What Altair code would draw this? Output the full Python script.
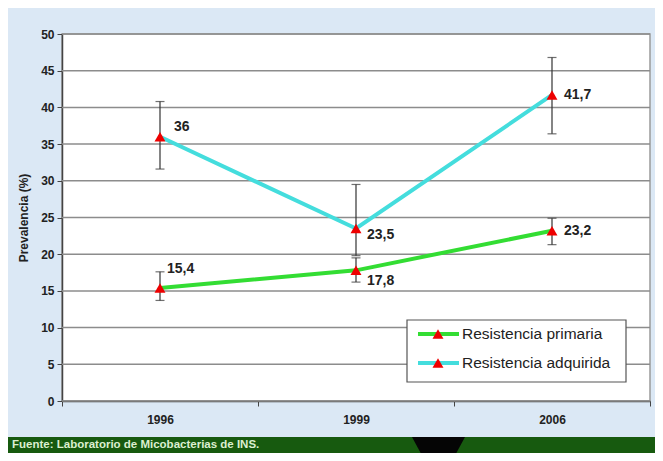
import altair as alt
import pandas as pd

years = ["1996", "1999", "2006"]
series = ["Resistencia primaria", "Resistencia adquirida"]
primaria = [15.4, 17.8, 23.2]
primaria_low = [13.7, 16.2, 21.3]
primaria_high = [17.6, 19.5, 24.9]
adquirida = [36.0, 23.5, 41.7]
adquirida_low = [31.6, 19.8, 36.4]
adquirida_high = [40.8, 29.5, 46.8]
y_ticks = [0, 5, 10, 15, 20, 25, 30, 35, 40, 45, 50]
footer = "Fuente: Laboratorio de Micobacterias de INS."

rows = []
for i, yr in enumerate(years):
    rows.append(dict(year=yr, series=series[0], value=primaria[i], low=primaria_low[i], high=primaria_high[i]))
    rows.append(dict(year=yr, series=series[1], value=adquirida[i], low=adquirida_low[i], high=adquirida_high[i]))
df = pd.DataFrame(rows)

FONT = "Liberation Sans"
W, H = 588, 367
line_colors = ["#33dd33", "#44dddd"]

x_enc = alt.X(
    "year:N", sort=years,
    scale=alt.Scale(type="band", domain=years, paddingInner=0, paddingOuter=0),
    axis=alt.Axis(title=None, labelAngle=0, tickBand="extent", grid=False,
                  labelFont=FONT, labelFontSize=12, labelFontWeight="bold", labelColor="#222",
                  tickSize=5, tickColor="#444", domainColor="#444", domainWidth=1.5,
                  labelPadding=8),
)
y_scale = alt.Scale(domain=[0, 50], nice=False, zero=True)
y_axis = alt.Axis(values=y_ticks, tickCount=11, labelOverlap=False, grid=False,
                  title="Prevalencia (%)", titleFont=FONT, titleFontSize=12, titleFontWeight="bold",
                  titleColor="#222", titlePadding=10,
                  labelFont=FONT, labelFontSize=12, labelFontWeight="bold", labelColor="#222",
                  tickSize=5, tickColor="#444", domainColor="#444", domainWidth=1.5, labelPadding=3)


def y_of(field):
    return alt.Y(f"{field}:Q", scale=y_scale, axis=y_axis)


# horizontal grid lines at each y tick value
grid = alt.Chart(pd.DataFrame({"tick": y_ticks})).mark_rule(color="#8c8c8c", strokeWidth=1.5).encode(
    y=y_of("tick"))

base = alt.Chart(df)

err = base.mark_rule(color="#333", strokeWidth=1.2).encode(
    x=x_enc, y=y_of("low"), y2="high:Q")
cap_lo = base.mark_tick(color="#333", thickness=1.2, size=9).encode(x=x_enc, y=y_of("low"))
cap_hi = base.mark_tick(color="#333", thickness=1.2, size=9).encode(x=x_enc, y=y_of("high"))

lines = base.mark_line(strokeWidth=4).encode(
    x=x_enc, y=y_of("value"),
    color=alt.Color("series:N", scale=alt.Scale(domain=series, range=line_colors), legend=None),
)
pts = base.mark_point(shape="triangle-up", filled=True, color="#ee0000", size=120, opacity=1).encode(
    x=x_enc, y=y_of("value"))

label_offsets = {
    (years[0], series[0]): (7, -19),
    (years[1], series[0]): (11, 11),
    (years[2], series[0]): (12, 0),
    (years[0], series[1]): (14, -10),
    (years[1], series[1]): (11, 6),
    (years[2], series[1]): (12, 0),
}
label_layers = []
for (yr, s), (dx, dy) in label_offsets.items():
    label_layers.append(
        base.transform_filter((alt.datum.year == yr) & (alt.datum.series == s))
        .transform_calculate(label="replace(toString(datum.value), '.', ',')")
        .mark_text(align="left", baseline="middle", dx=dx, dy=dy, font=FONT, fontSize=14,
                   fontWeight="bold", color="#222")
        .encode(x=x_enc, y=y_of("value"), text="label:N")
    )

# legend (manual, drawn in pixel space of the plot)
one = pd.DataFrame({"k": [0]})
legend_box = alt.Chart(one).mark_rect(fill="white", stroke="#555", strokeWidth=1.2).encode(
    x=alt.value(345), x2=alt.value(564), y=alt.value(286), y2=alt.value(348))
legend_layers = [legend_box]
for i, s in enumerate(series):
    ly = 300 + i * 29
    sd = pd.DataFrame({"series": [s]})
    legend_layers.append(alt.Chart(sd).mark_rule(strokeWidth=4, color=line_colors[i]).encode(
        x=alt.value(356), x2=alt.value(397), y=alt.value(ly)))
    legend_layers.append(alt.Chart(sd).mark_point(shape="triangle-up", filled=True, color="#ee0000",
                                                  size=120, opacity=1).encode(
        x=alt.value(376), y=alt.value(ly)))
    legend_layers.append(alt.Chart(sd).mark_text(align="left", baseline="middle", font=FONT,
                                                 fontSize=15.5, color="#222").encode(
        x=alt.value(400), y=alt.value(ly), text="series:N"))

# footer band
fd = pd.DataFrame({"text": [footer]})
foot_rect = alt.Chart(fd).mark_rect(fill="#175a0f").encode(
    x=alt.value(-60), x2=alt.value(600), y=alt.value(403), y2=alt.value(440))
foot_tri = alt.Chart(fd).mark_point(shape="M-1,-1L1,-1L0,0.85Z", filled=True, color="#050505",
                                    size=2809, opacity=1).encode(
    x=alt.value(376.5), y=alt.value(429.5))
foot_text = alt.Chart(fd).mark_text(align="left", baseline="middle", font=FONT, fontSize=11.5,
                                    fontWeight="bold", color="#dcefd0").encode(
    x=alt.value(-50), y=alt.value(411), text="text:N")

chart = alt.layer(
    grid, err, cap_lo, cap_hi, lines, pts, *label_layers, *legend_layers, foot_rect, foot_tri, foot_text
).properties(
    width=W, height=H,
    autosize=alt.AutoSizeParams(type="none"),
    padding={"left": 54, "top": 26, "right": 5, "bottom": 52},
    background="#dbe8f5",
).configure_view(fill="white", stroke="#9a9a9a", strokeWidth=1.5)

chart.save("out.html", embed_options={"renderer": "svg", "actions": False})
